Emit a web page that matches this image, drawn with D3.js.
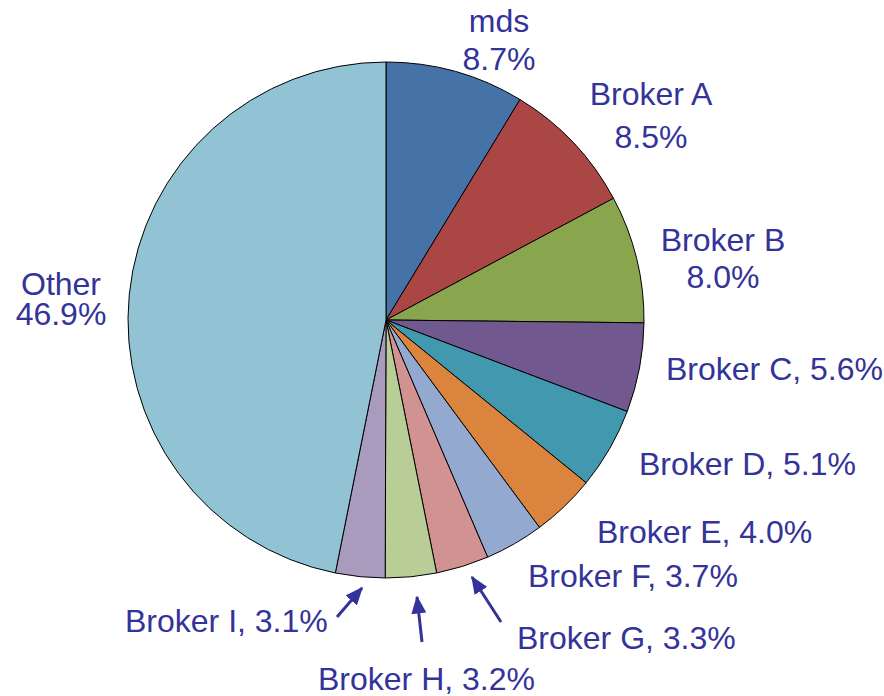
<!DOCTYPE html>
<html>
<head>
<meta charset="utf-8">
<script src="https://cdn.jsdelivr.net/npm/d3@7"></script>
<style>
  body { margin: 0; background: #fff; }
  svg text { font-family: "Liberation Sans", Arial, sans-serif; font-size: 32px; fill: #333399; }
</style>
</head>
<body>
<svg id="chart" width="884" height="696"></svg>
<script>
// data
var categories = ["mds", "Broker A", "Broker B", "Broker C", "Broker D", "Broker E",
                  "Broker F", "Broker G", "Broker H", "Broker I", "Other"]
var shares = [8.7, 8.5, 8.0, 5.6, 5.1, 4.0, 3.7, 3.3, 3.2, 3.1, 46.9]
var colors = ["#4572A7", "#AA4643", "#89A54E", "#71588F", "#4198AF", "#DB843D",
              "#93A9CF", "#D19392", "#B9CD96", "#A99BBD", "#92C3D4"]

// label layout: [x, baseline y, anchor, two lines?, line gap]
var labelPos = [
    [499, 32, "middle", true, 38],
    [651, 105, "middle", true, 43],
    [723, 251, "middle", true, 37],
    [666, 380, "start", false],
    [639, 475, "start", false],
    [597, 543, "start", false],
    [528, 587, "start", false],
    [517, 649, "start", false],
    [318, 690, "start", false],
    [125, 632, "start", false],
    [61, 295, "middle", true, 30]
]
// arrows for the small slices: [slice index, tail x, tail y, head x, head y]
var arrows = [
    [7, 501, 622, 472, 577],
    [8, 422, 642, 417, 597],
    [9, 337, 617, 362, 588]
]

var data = categories.map(function (c, i) {
    return { name: c, value: shares[i], color: colors[i] }
})

var svg = d3.select("#chart")
var cx = 386, cy = 320, radius = 258

var pie = d3.pie()
    .sort(null)
    .value(function (d) { return d.value })

var arc = d3.arc()
    .innerRadius(0)
    .outerRadius(radius)

var g = svg.append("g")
    .attr("transform", "translate(" + cx + "," + cy + ")")

g.selectAll("path")
    .data(pie(data))
    .enter()
    .append("path")
    .attr("d", arc)
    .attr("fill", function (d) { return d.data.color })
    .attr("stroke", "#000")
    .attr("stroke-width", 1)

// labels
var fmt = function (v) { return v.toFixed(1) + "%" }
data.forEach(function (d, i) {
    var p = labelPos[i]
    if (p[3]) {
        svg.append("text").attr("x", p[0]).attr("y", p[1])
            .attr("text-anchor", p[2]).text(d.name)
        svg.append("text").attr("x", p[0]).attr("y", p[1] + p[4])
            .attr("text-anchor", p[2]).text(fmt(d.value))
    } else {
        svg.append("text").attr("x", p[0]).attr("y", p[1])
            .attr("text-anchor", p[2]).text(d.name + ", " + fmt(d.value))
    }
})

// arrows
svg.append("defs").append("marker")
    .attr("id", "head")
    .attr("viewBox", "0 0 12 10")
    .attr("refX", 11).attr("refY", 5)
    .attr("markerWidth", 6).attr("markerHeight", 5)
    .attr("markerUnits", "strokeWidth")
    .attr("orient", "auto")
    .append("path")
    .attr("d", "M0,0L12,5L0,10z")
    .attr("fill", "#333399")

arrows.forEach(function (a) {
    svg.append("line")
        .attr("x1", a[1]).attr("y1", a[2])
        .attr("x2", a[3]).attr("y2", a[4])
        .attr("stroke", "#333399")
        .attr("stroke-width", 3)
        .attr("marker-end", "url(#head)")
})
</script>
</body>
</html>
